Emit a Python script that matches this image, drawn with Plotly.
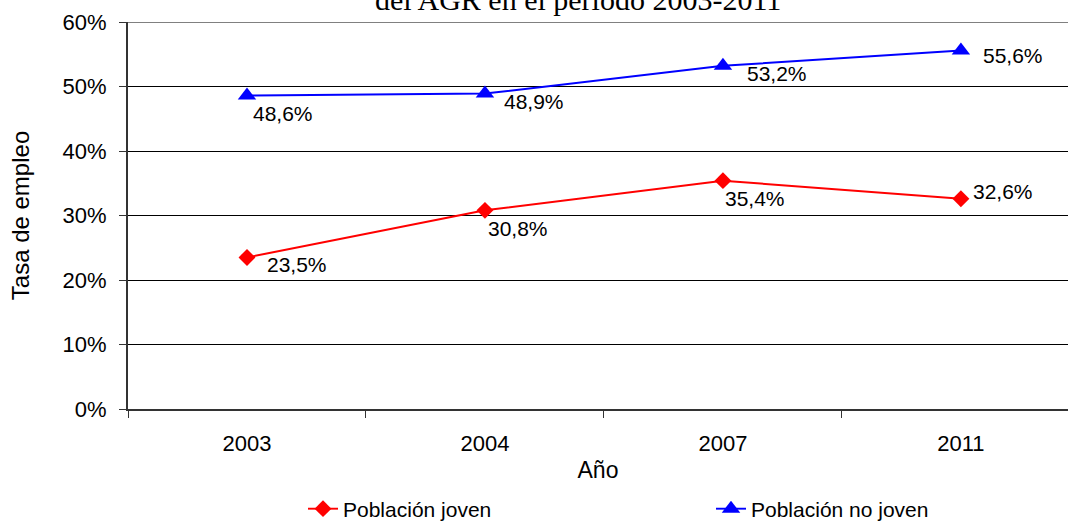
import plotly.graph_objects as go

# Datos
anios = ["2003", "2004", "2007", "2011"]
joven = [23.5, 30.8, 35.4, 32.6]
no_joven = [48.6, 48.9, 53.2, 55.6]
ticks_y = [0, 10, 20, 30, 40, 50, 60]

FUENTE = "Arial, Liberation Sans, sans-serif"
ROJO = "#FF0000"
AZUL = "#0000FF"

fig = go.Figure()

fig.add_trace(go.Scatter(
    x=anios, y=joven, name="Población joven", mode="lines+markers",
    line=dict(color=ROJO, width=2),
    marker=dict(symbol="diamond", size=13, color=ROJO),
    legend="legend", showlegend=True,
))
fig.add_trace(go.Scatter(
    x=anios, y=no_joven, name="Población no joven", mode="lines+markers",
    line=dict(color=AZUL, width=2),
    marker=dict(symbol="triangle-up", size=16, color=AZUL),
    legend="legend2", showlegend=True,
))

# Etiquetas de datos (desplazamiento en px respecto al marcador)
desp_joven = [(18, -7), (1, -18), (0, -18), (10, 7)]
desp_no_joven = [(4, -18), (17, -8), (22, -8), (20, -5)]

def etiqueta(v):
    return f"{v:.1f}".replace(".", ",") + "%"

for serie, desp in ((joven, desp_joven), (no_joven, desp_no_joven)):
    for i, (v, (dx, dy)) in enumerate(zip(serie, desp)):
        fig.add_annotation(
            x=i, y=v, text=etiqueta(v), showarrow=False,
            xanchor="left", yanchor="middle", xshift=dx, yshift=dy,
            font=dict(family=FUENTE, size=21, color="black"),
        )

# Título (cortado en la parte superior)
fig.add_annotation(
    x=(578 - 128) / 940, xref="paper", y=1.01, yref="paper",
    text="del AGR en el periodo 2003-2011", showarrow=False,
    xanchor="center", yanchor="bottom",
    font=dict(family="Times New Roman, Liberation Serif, serif", size=30, color="black"),
)

# Borde superior gris
fig.add_shape(type="line", xref="paper", yref="y", x0=0, x1=1, y0=60, y1=60,
              line=dict(color="#808080", width=2))

fig.update_layout(
    width=1068, height=521,
    margin=dict(l=128, r=0, t=22, b=112),
    plot_bgcolor="white", paper_bgcolor="white",
    font=dict(family=FUENTE, size=22, color="black"),
    showlegend=True,
    legend=dict(orientation="h", xref="container", yref="container",
                x=303 / 1068, y=1 - 509 / 521, xanchor="left", yanchor="middle",
                font=dict(size=21), bgcolor="rgba(0,0,0,0)"),
    legend2=dict(orientation="h", xref="container", yref="container",
                 x=711 / 1068, y=1 - 509 / 521, xanchor="left", yanchor="middle",
                 font=dict(size=21), bgcolor="rgba(0,0,0,0)"),
    xaxis=dict(
        type="category", range=[-0.5, 3.45],
        showline=True, linecolor="#333333", linewidth=2,
        ticks="outside", tickson="boundaries", ticklen=7, tickcolor="#333333",
        showgrid=False, zeroline=False,
        ticklabelstandoff=14,
        title=dict(text="Año", font=dict(size=23), standoff=6),
    ),
    yaxis=dict(
        range=[0, 60], tickvals=ticks_y, ticktext=[f"{t}%" for t in ticks_y],
        showline=True, linecolor="#333333", linewidth=2,
        ticks="outside", ticklen=7, tickcolor="#333333",
        showgrid=True, gridcolor="black", gridwidth=1, zeroline=False,
        ticklabelstandoff=8,
        title=dict(text="Tasa de empleo", font=dict(size=24), standoff=26),
    ),
)

# Sin margen del body para que el gráfico ocupe toda la ventana
fig.write_html("out.html", config={"displayModeBar": False},
               post_script="document.body.style.margin='0';")
